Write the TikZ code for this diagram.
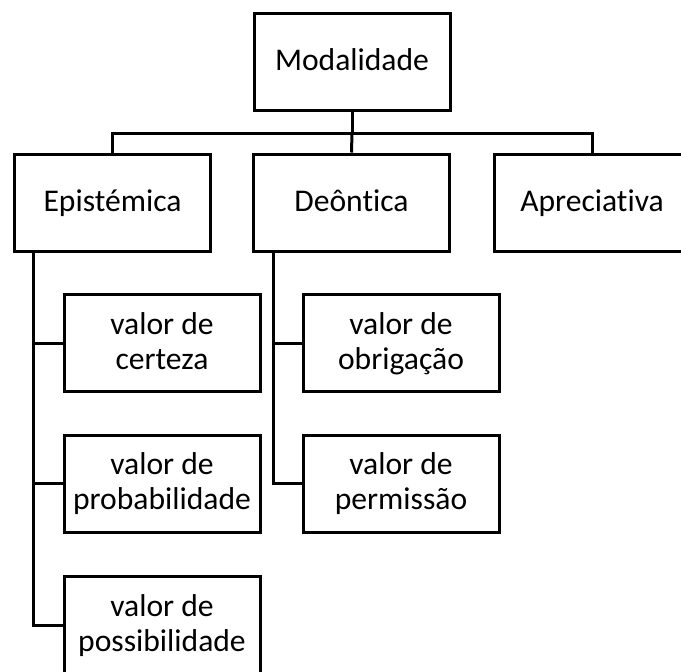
\documentclass[tikz,border=0pt]{standalone}
\usepackage{fontspec}
\setmainfont{Carlito}[Ligatures=NoCommon]
\usepackage{tikz}

\tikzset{
  caixa/.style={draw=black,line width=1.5pt,minimum width=98pt,minimum height=48.5pt,
    inner sep=0pt,align=center,font=\fontsize{15.8}{17.5}\selectfont,
    text height=29pt,text depth=3pt},
  umalinha/.style={caixa,text height=11.5pt},
  liga/.style={draw=black,line width=1.5pt}
}

\begin{document}
\begin{tikzpicture}[x=0.5pt,y=-0.5pt]

\useasboundingbox (0,0) rectangle (681,671);

%topo
\node[umalinha] (mod) at (352,62) {Modalidade};
\coordinate (bus) at (352,133);

%nivel 2
\node[umalinha] (epi) at (112.5,202.5) {Epistémica};
\node[umalinha] (deo) at (351.5,202.5) {Deôntica};
\node[umalinha] (apr) at (592,202.5) {Apreciativa};

\path[liga] (mod.south) -- (bus);
\path[liga] (epi.north) |- (bus) -| (apr.north);
\path[liga] (bus) -- (deo.north);

%epistemica
\node[caixa] (cer) at (162,343) {valor de\\certeza};
\node[caixa] (prob) at (162,483.5) {valor de\\probabilidade};
\node[caixa] (poss) at (162,625) {valor de\\possibilidade};
\coordinate (epitr) at (33,252);

\path[liga] (epitr) |- (poss.west);
\path[liga] (epitr |- cer.west) -- (cer.west);
\path[liga] (epitr |- prob.west) -- (prob.west);

%deontica
\node[caixa] (obr) at (401,343) {valor de\\obrigação};
\node[caixa] (perm) at (401,483.5) {valor de\\permissão};
\coordinate (deotr) at (273,252);

\path[liga] (deotr) |- (perm.west);
\path[liga] (deotr |- obr.west) -- (obr.west);

\end{tikzpicture}
\end{document}
